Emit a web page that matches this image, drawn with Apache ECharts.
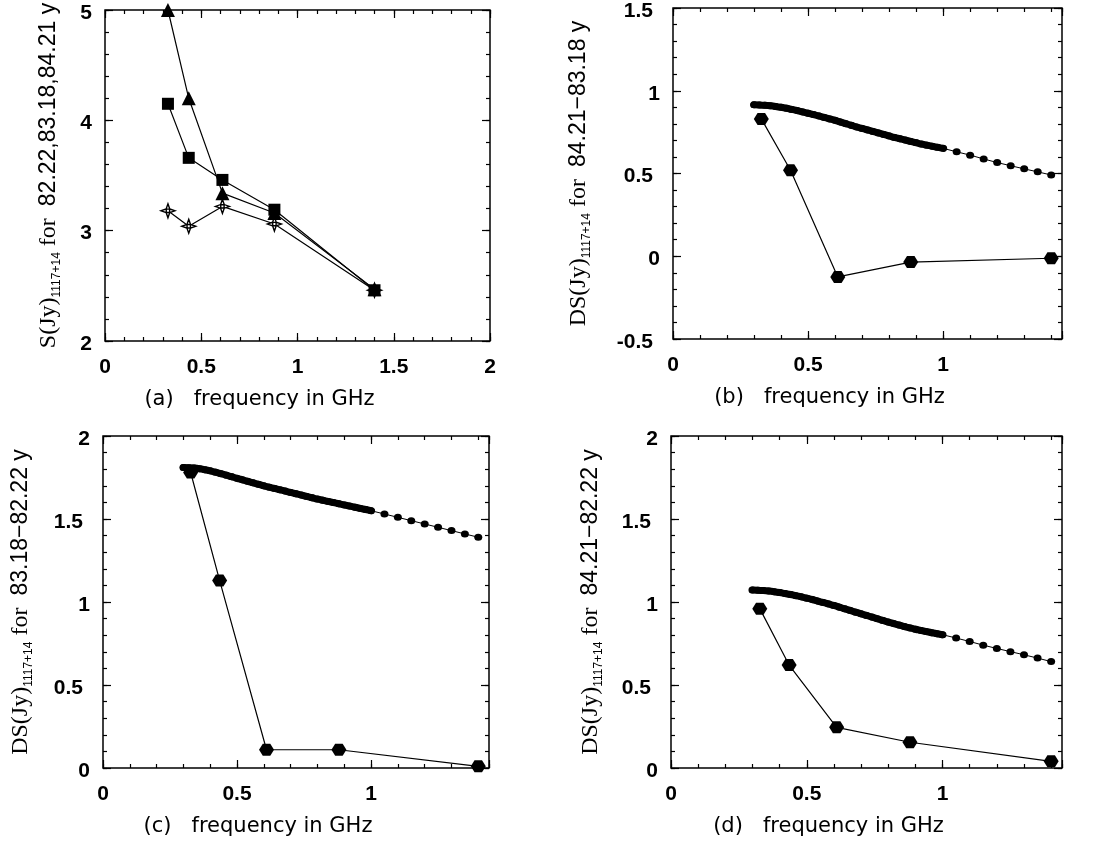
<!DOCTYPE html>
<html><head><meta charset="utf-8">
<script src="https://cdn.jsdelivr.net/npm/echarts@6/dist/echarts.min.js"></script>
<style>html,body{margin:0;padding:0;background:#fff}#c{width:1107px;height:846px}</style>
</head><body><div id="c"></div>
<script>
// ---- data ----
const freq = [0.327, 0.435, 0.61, 0.88, 1.4];
// panel (a): flux densities at three epochs
const flux8421 = [5.0, 4.2, 3.34, 3.16, 2.47];   // triangles
const flux8318 = [4.15, 3.66, 3.46, 3.19, 2.46]; // squares
const flux8222 = [3.18, 3.04, 3.22, 3.06, 2.46]; // stars
// panels (b)-(d): observed differences (hexagons)
const diffB = [0.83, 0.52, -0.125, -0.035, -0.012];
const diffC = [1.78, 1.13, 0.11, 0.11, 0.01];
const diffD = [0.96, 0.62, 0.245, 0.155, 0.04];
// model curves (dotted); first 36 points are the densely sampled part
const modelFreq = [0.30,0.32,0.34,0.36,0.38,0.40,0.42,0.44,0.46,0.48,0.50,0.52,0.54,0.56,0.58,0.60,0.62,0.64,0.66,0.68,0.70,0.72,0.74,0.76,0.78,0.80,0.82,0.84,0.86,0.88,0.90,0.92,0.94,0.96,0.98,1.00,1.05,1.10,1.15,1.20,1.25,1.30,1.35,1.40];
const modelB = [0.915,0.914,0.912,0.909,0.905,0.900,0.894,0.887,0.880,0.872,0.864,0.856,0.848,0.839,0.830,0.821,0.811,0.801,0.791,0.781,0.772,0.763,0.754,0.745,0.736,0.727,0.718,0.710,0.702,0.694,0.686,0.678,0.671,0.664,0.658,0.652,0.631,0.611,0.588,0.566,0.547,0.528,0.510,0.491];
const modelC = [1.810,1.809,1.807,1.803,1.797,1.790,1.782,1.773,1.764,1.755,1.745,1.736,1.727,1.718,1.709,1.700,1.692,1.684,1.676,1.668,1.660,1.652,1.644,1.636,1.628,1.620,1.613,1.606,1.599,1.592,1.585,1.578,1.571,1.564,1.557,1.550,1.530,1.510,1.490,1.470,1.450,1.430,1.410,1.390];
const modelD = [1.072,1.071,1.069,1.066,1.062,1.057,1.051,1.045,1.038,1.031,1.023,1.015,1.006,0.997,0.988,0.979,0.969,0.959,0.949,0.939,0.929,0.919,0.909,0.899,0.889,0.879,0.870,0.861,0.852,0.844,0.836,0.829,0.822,0.815,0.809,0.803,0.783,0.762,0.740,0.720,0.701,0.682,0.662,0.641];
const denseCount = 36;
// tick labels
const xTickLabelsA = ['0','0.5','1','1.5','2'];
const xTickLabelsBCD = ['0','0.5','1'];
const yTickLabelsA = ['2','3','4','5'];
const yTickLabelsB = ['-0.5','0','0.5','1','1.5'];
const yTickLabelsCD = ['0','0.5','1','1.5','2'];
const xTitles = ['(a)   frequency in GHz','(b)   frequency in GHz','(c)   frequency in GHz','(d)   frequency in GHz'];
const yTitleMain = ['S(Jy)','DS(Jy)','DS(Jy)','DS(Jy)'];
const yTitleSub = '1117+14';
const yTitleEpochs = ['82.22,83.18,84.21 y','84.21\u221283.18 y','83.18\u221282.22 y','84.21\u221282.22 y'];

// ---- layout ----
const SANS = 'Liberation Sans, Arial, Helvetica, sans-serif';
const WIDE = 'DejaVu Sans, Verdana, sans-serif';
const SERIF = 'Liberation Serif, Times New Roman, serif';
const panels = [
  {grid:{left:105,top:10,width:385,height:331}, xMin:0,xMax:2,  yMin:2,   yMax:5,  yMajor:1,  yMinor:0.2, xl:xTickLabelsA,  yl:yTickLabelsA,  gap:42},
  {grid:{left:673,top:8, width:389,height:331}, xMin:0,xMax:1.44,yMin:-0.5,yMax:1.5,yMajor:0.5,yMinor:0.1, xl:xTickLabelsBCD,yl:yTickLabelsB,  gap:80},
  {grid:{left:103,top:436,width:386,height:332},xMin:0,xMax:1.44,yMin:0,   yMax:2,  yMajor:0.5,yMinor:0.1, xl:xTickLabelsBCD,yl:yTickLabelsCD, gap:68},
  {grid:{left:671,top:436,width:391,height:332},xMin:0,xMax:1.44,yMin:0,   yMax:2,  yMajor:0.5,yMinor:0.1, xl:xTickLabelsBCD,yl:yTickLabelsCD, gap:66}
];

function fmt(labels, rich){
  return function(v){
    const s = String(+(+v).toFixed(3));
    if (!labels.includes(s)) return '';
    if (rich && s.indexOf('.')>=0) return '{d|'+s+'}';
    return s;
  };
}
const tickFont = {fontFamily:SANS, fontSize:21, fontWeight:'bold', color:'#000'};

const grids=[], xAxes=[], yAxes=[], series=[];
const mainX=[], mainY=[];
panels.forEach((p,gi)=>{
  grids.push(Object.assign({show:true, borderColor:'#000', borderWidth:1.5, backgroundColor:'transparent'}, p.grid));
  ['bottom','top'].forEach(pos=>{
    [true,false].forEach(major=>{
      const primary = pos==='bottom' && major;
      if (primary) mainX[gi]=xAxes.length;
      xAxes.push({
        type:'value', gridIndex:gi, position:pos, min:p.xMin, max:p.xMax,
        interval: major?0.5:0.1,
        axisLine:{show:false,onZero:false},
        axisTick:{show:true,inside:true,length:major?8:4,lineStyle:{color:'#000',width:1.2}},
        axisLabel: primary ? Object.assign({show:true,margin:16,formatter:fmt(p.xl,false),showMaxLabel:true}, tickFont) : {show:false},
        splitLine:{show:false},
        name: primary ? xTitles[gi] : '',
        nameLocation:'middle', nameGap:48,
        nameTextStyle:{fontFamily:WIDE,fontSize:21,color:'#000',padding:[0,76,0,0]}
      });
    });
  });
  ['left','right'].forEach(pos=>{
    [true,false].forEach(major=>{
      const primary = pos==='left' && major;
      if (primary) mainY[gi]=yAxes.length;
      yAxes.push({
        type:'value', gridIndex:gi, position:pos, min:p.yMin, max:p.yMax,
        interval: major?p.yMajor:p.yMinor,
        axisLine:{show:false,onZero:false},
        axisTick:{show:true,inside:true,length:major?8:4,lineStyle:{color:'#000',width:1.2}},
        axisLabel: primary ? Object.assign({show:true,margin:13,formatter:fmt(p.yl,true),padding:[6,0,0,0],
            rich:{d:Object.assign({padding:[0,7,0,0]},tickFont)}}, tickFont) : {show:false},
        splitLine:{show:false},
        name: primary ? '{m|'+yTitleMain[gi]+'}{s|'+yTitleSub+'}{m| for  }{n|'+yTitleEpochs[gi]+'}' : '',
        nameLocation:'middle', nameGap:p.gap,
        nameTextStyle:{color:'#000', rich:{
          m:{fontFamily:SERIF,fontSize:24,color:'#000',lineHeight:28,verticalAlign:'middle'},
          s:{fontFamily:SANS,fontSize:12,color:'#000',lineHeight:12,verticalAlign:'bottom'},
          n:{fontFamily:SANS,fontSize:23,color:'#000',lineHeight:28,verticalAlign:'middle'}
        }}
      });
    });
  });
});

const pairs = (xs, ys) => xs.map((x,i)=>[x, ys[i]]);
const HEX = 'path://M0,5 L3,0 L9,0 L12,5 L9,10 L3,10 Z';
const STAR = 'path://M10,0 L12.6,7.4 L20,10 L12.6,12.6 L10,20 L7.4,12.6 L0,10 L7.4,7.4 Z M7.6,7.6 L12.4,7.6 L12.4,12.4 L7.6,12.4 Z';
const lineBase = {type:'line', showSymbol:true, showAllSymbol:true, lineStyle:{color:'#000',width:1.2}, z:3};

series.push(Object.assign({}, lineBase, {xAxisIndex:mainX[0], yAxisIndex:mainY[0], data:pairs(freq,flux8222), symbol:STAR, symbolSize:14, itemStyle:{color:'#fff',borderColor:'#000',borderWidth:1.4}}));
series.push(Object.assign({}, lineBase, {xAxisIndex:mainX[0], yAxisIndex:mainY[0], data:pairs(freq,flux8421), symbol:'triangle', symbolSize:14, itemStyle:{color:'#000'}}));
series.push(Object.assign({}, lineBase, {xAxisIndex:mainX[0], yAxisIndex:mainY[0], data:pairs(freq,flux8318), symbol:'rect', symbolSize:12, itemStyle:{color:'#000'}}));

[[diffB,modelB],[diffC,modelC],[diffD,modelD]].forEach((d,k)=>{
  const gi=k+1;
  const all = pairs(modelFreq,d[1]);
  // dense part drawn as a thick band of overlapping dots
  series.push({type:'line', xAxisIndex:mainX[gi], yAxisIndex:mainY[gi], data:all.slice(0,denseCount), showSymbol:false, smooth:true,
    lineStyle:{color:'#000',width:7,cap:'round',join:'round'}, z:2});
  series.push(Object.assign({}, lineBase, {xAxisIndex:mainX[gi], yAxisIndex:mainY[gi], data:all, symbol:'circle', symbolSize:[8,7], itemStyle:{color:'#000'}, lineStyle:{color:'#000',width:1}}));
  series.push(Object.assign({}, lineBase, {xAxisIndex:mainX[gi], yAxisIndex:mainY[gi], data:pairs(freq,d[0]), symbol:HEX, symbolSize:[15,12], itemStyle:{color:'#000'}, z:4}));
});

const chart = echarts.init(document.getElementById('c'), null, {renderer:'canvas'});
chart.setOption({animation:false, backgroundColor:'#fff', grid:grids, xAxis:xAxes, yAxis:yAxes, series:series});
</script>
</body></html>
